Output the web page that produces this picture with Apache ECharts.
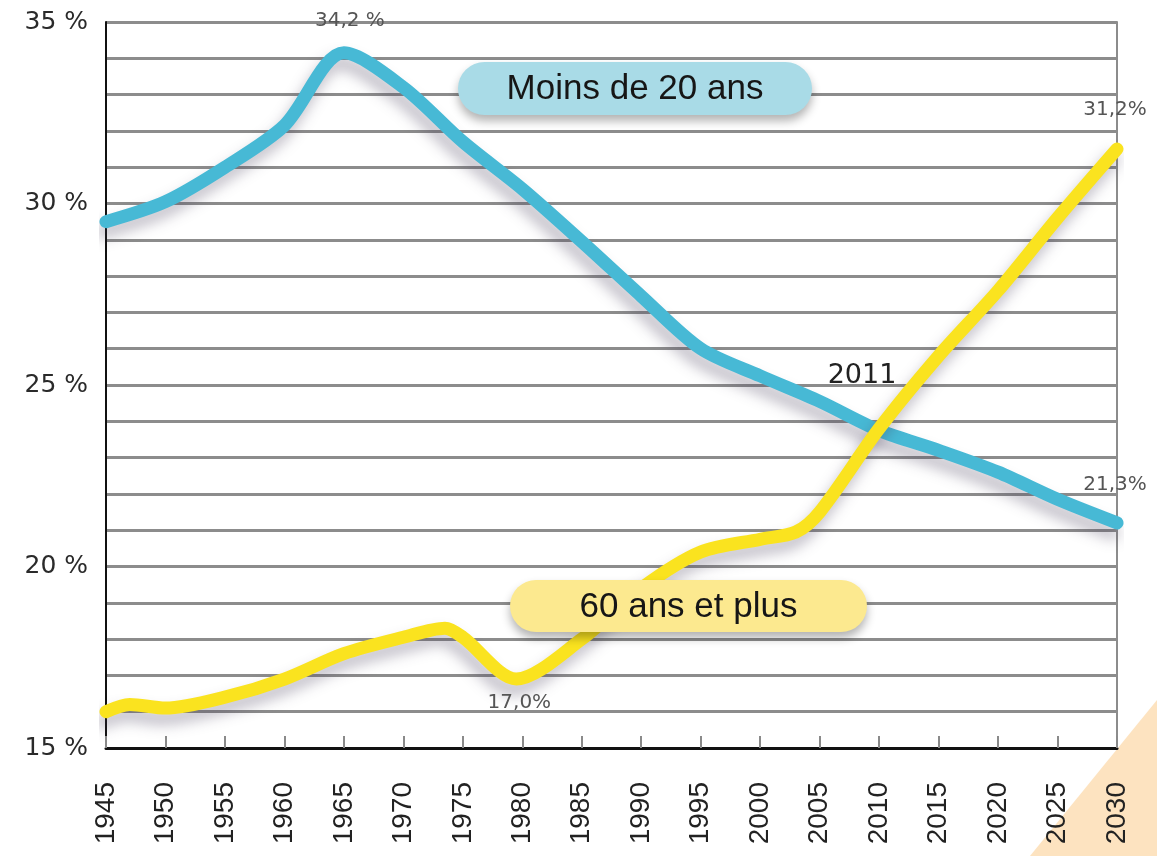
<!DOCTYPE html>
<html>
<head>
<meta charset="utf-8">
<title>Moins de 20 ans / 60 ans et plus</title>
<script src="https://cdn.jsdelivr.net/npm/echarts@6/dist/echarts.min.js"></script>
<style>
  html, body { margin: 0; padding: 0; background: #fff; }
  #chart { width: 1157px; height: 856px; }
</style>
</head>
<body>
<div id="chart"></div>
<script>
  // part de la population (%) par année
  var youngYears = [1945, 1950, 1955, 1960, 1965, 1970, 1975, 1980, 1985, 1990, 1995, 2000, 2005, 2010, 2015, 2020, 2025, 2030]
  var youngValues = [29.5, 30.05, 31.0, 32.15, 34.15, 33.2, 31.7, 30.4, 28.95, 27.45, 26.0, 25.25, 24.55, 23.75, 23.2, 22.6, 21.85, 21.2]

  var oldYears = [1945, 1947, 1950, 1955, 1960, 1965, 1970, 1973.5, 1975, 1979.5, 1985, 1990, 1995, 2000, 2003, 2005, 2010, 2015, 2020, 2025, 2030]
  var oldValues = [16.0, 16.2, 16.1, 16.4, 16.9, 17.6, 18.05, 18.3, 18.05, 16.9, 18.0, 19.4, 20.4, 20.75, 20.95, 21.5, 23.8, 25.8, 27.6, 29.6, 31.5]

  var yTickLabels = [15, 20, 25, 30, 35]
  var seriesNames = ['Moins de 20 ans', '60 ans et plus']

  // annotations : [année, texte]
  var youngNotes = [[1965, '34,2 %'], [2030, '21,3%']]
  var oldNotes = [[1979.5, '17,0%'], [2030, '31,2%']]
  var crossYear = 2011
  var crossValue = 23.6

  function pairs(xs, ys) {
    return xs.map(function(x, i) { return [x, ys[i]] })
  }

  function note(xs, ys, item, offset) {
    var i = xs.indexOf(item[0])
    return {
      coord: [xs[i], ys[i]],
      label: { formatter: item[1], offset: offset }
    }
  }

  // étiquette en forme de pilule, posée au-dessus des courbes
  function pill(left, top, w, h, fill, text) {
    return {
      type: 'group',
      left: left,
      top: top,
      zlevel: 2,
      children: [
        {
          type: 'rect',
          zlevel: 2,
          shape: { x: 0, y: 0, width: w, height: h, r: h / 2 },
          style: { fill: fill, shadowBlur: 10, shadowOffsetY: 6, shadowColor: 'rgba(0,0,0,0.3)' }
        },
        {
          type: 'text',
          zlevel: 2,
          x: w / 2,
          y: h / 2 + 1,
          style: {
            text: text,
            fontFamily: 'Liberation Sans',
            fontSize: 35,
            fill: '#161616',
            align: 'center',
            verticalAlign: 'middle'
          }
        }
      ]
    }
  }

  var chart = echarts.init(document.getElementById('chart'))

  var noteLabel = {
    show: true,
    position: 'inside',
    fontFamily: 'DejaVu Sans',
    fontSize: 20,
    color: '#555'
  }

  var lineShadow = {
    shadowColor: 'rgba(70, 60, 90, 0.35)',
    shadowBlur: 14,
    shadowOffsetX: -4,
    shadowOffsetY: 10
  }

  chart.setOption({
    animation: false,
    backgroundColor: '#fff',
    grid: { left: 106, right: 40, top: 22, bottom: 108 },
    xAxis: {
      type: 'value',
      min: 1945,
      max: 2030,
      interval: 5,
      axisLine: { show: true, onZero: false, lineStyle: { color: '#111', width: 3 } },
      axisTick: { show: true, inside: true, length: 12, lineStyle: { color: '#8a8a8a', width: 2 } },
      splitLine: { show: false },
      axisLabel: {
        rotate: 90,
        margin: 34,
        fontFamily: 'Liberation Sans',
        fontSize: 28,
        color: '#222',
        formatter: function(v) { return String(v) }
      }
    },
    yAxis: [
      {
        type: 'value',
        min: 15,
        max: 35,
        interval: 1,
        axisLine: { show: true, onZero: false, lineStyle: { color: '#111', width: 2 } },
        axisTick: { show: false },
        splitLine: { show: true, lineStyle: { color: '#8c8c8c', width: 3 } },
        axisLabel: {
          margin: 18,
          fontFamily: 'DejaVu Sans',
          fontSize: 25,
          color: '#2a2a2a',
          formatter: function(v) { return yTickLabels.indexOf(v) >= 0 ? v + ' %' : '' }
        }
      },
      {
        type: 'value',
        position: 'right',
        min: 15,
        max: 35,
        interval: 1,
        axisLine: { show: true, onZero: false, lineStyle: { color: '#8c8c8c', width: 2 } },
        axisTick: { show: false },
        axisLabel: { show: false },
        splitLine: { show: false }
      }
    ],
    series: [
      {
        name: seriesNames[0],
        type: 'line',
        smooth: 0.3,
        showSymbol: false,
        data: pairs(youngYears, youngValues),
        lineStyle: Object.assign({ color: '#47b9d5', width: 13, cap: 'round', join: 'round' }, lineShadow),
        markPoint: {
          symbol: 'circle',
          symbolSize: 1,
          itemStyle: { color: 'rgba(0,0,0,0)' },
          label: noteLabel,
          data: [
            note(youngYears, youngValues, youngNotes[0], [6, -32]),
            note(youngYears, youngValues, youngNotes[1], [-2, -38])
          ]
        }
      },
      {
        name: seriesNames[1],
        type: 'line',
        smooth: 0.3,
        showSymbol: false,
        data: pairs(oldYears, oldValues),
        lineStyle: Object.assign({ color: '#fae31f', width: 13, cap: 'round', join: 'round' }, lineShadow),
        markPoint: {
          symbol: 'circle',
          symbolSize: 1,
          itemStyle: { color: 'rgba(0,0,0,0)' },
          label: noteLabel,
          data: [
            note(oldYears, oldValues, oldNotes[0], [3, 24]),
            note(oldYears, oldValues, oldNotes[1], [-2, -39]),
            {
              coord: [crossYear, crossValue],
              label: { formatter: String(crossYear), offset: [-29, -60], fontSize: 27, color: '#222' }
            }
          ]
        }
      }
    ],
    graphic: [
      {
        type: 'polygon',
        z: -10,
        shape: { points: [[1030, 856], [1157, 700], [1157, 856]] },
        style: { fill: '#fde3c0' }
      },
      pill(458, 62, 354, 53, '#a9dbe7', seriesNames[0]),
      pill(510, 580, 357, 52, '#fce98f', seriesNames[1])
    ]
  })
</script>
</body>
</html>
